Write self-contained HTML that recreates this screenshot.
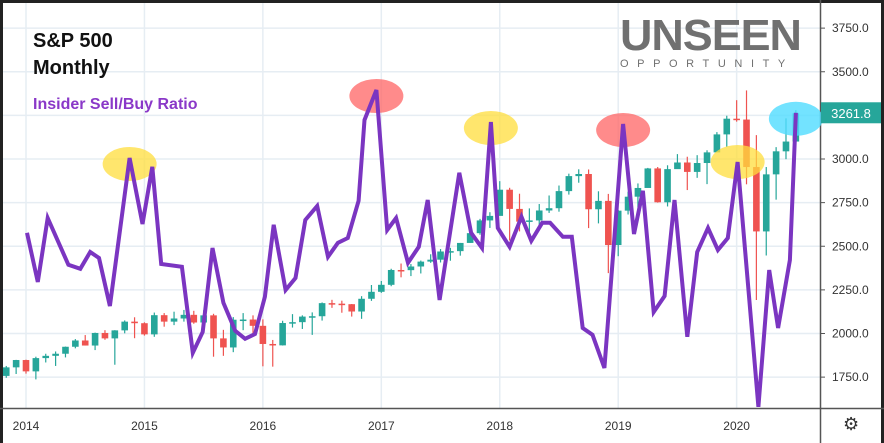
<!DOCTYPE html>
<html><head><meta charset="utf-8"><style>
body{margin:0;background:#fff;}
#wrap{position:relative;width:884px;height:443px;overflow:hidden;font-family:"Liberation Sans",sans-serif;}
</style></head><body>
<div id="wrap">
<svg id="chart" width="884" height="443"></svg>
</div>
<script>
const years=["2014","2015","2016","2017","2018","2019","2020"];
const priceTicks=[1750,2000,2250,2500,2750,3000,3250,3500,3750];
const priceTickLabels=["1750.0","2000.0","2250.0","2500.0","2750.0","3000.0","3250.0","3500.0","3750.0"];
// monthly candles Nov 2013 .. Jul 2020 (month index relative to Jan 2014)
const startMonth=-2;
const opens=[1757,1806,1848,1783,1859,1872,1884,1924,1960,1931,2003,1972,2018,2068,2059,1995,2105,2068,2086,2107,2063,2104,1972,1920,2079,2080,2044,1940,1932,2060,2065,2097,2099,2174,2171,2168,2126,2199,2239,2279,2364,2363,2384,2412,2423,2470,2472,2519,2575,2648,2674,2824,2714,2641,2648,2705,2718,2816,2902,2914,2712,2760,2507,2704,2784,2834,2946,2752,2942,2980,2926,2977,3038,3141,3231,3226,2954,2585,2912,3044,3100];
const closes=[1806,1848,1783,1859,1872,1884,1924,1960,1931,2003,1972,2018,2068,2059,1995,2105,2068,2086,2107,2063,2104,1972,1920,2079,2080,2044,1940,1932,2060,2065,2097,2099,2174,2171,2168,2126,2199,2239,2279,2364,2363,2384,2412,2423,2470,2472,2519,2575,2648,2674,2824,2714,2641,2648,2705,2718,2816,2902,2914,2712,2760,2507,2704,2784,2834,2946,2752,2942,2980,2926,2977,3038,3141,3231,3226,2954,2585,2912,3044,3100,3262];
const highs=[1814,1849,1850,1867,1884,1897,1925,1968,1991,2005,2019,2019,2075,2093,2064,2120,2117,2125,2135,2130,2133,2113,2021,2094,2117,2104,2081,1963,2073,2111,2104,2121,2178,2193,2188,2169,2214,2278,2301,2371,2401,2398,2418,2454,2484,2491,2519,2582,2657,2695,2873,2835,2801,2717,2742,2791,2848,2916,2941,2940,2815,2800,2708,2813,2860,2949,2954,2964,3028,3013,3022,3050,3154,3248,3337,3393,3137,2954,3068,3233,3280];
const lows=[1746,1768,1770,1737,1834,1814,1863,1915,1931,1905,1964,1821,2001,1973,1988,1981,2039,2048,2068,2056,2044,1867,1872,1893,2019,1993,1812,1810,1931,2034,2026,1992,2074,2147,2119,2097,2084,2187,2233,2271,2322,2329,2344,2405,2407,2417,2446,2520,2566,2605,2682,2533,2585,2553,2594,2691,2698,2796,2864,2604,2631,2346,2443,2682,2723,2848,2750,2728,2952,2822,2892,2856,3050,3070,3214,2855,2192,2447,2767,2999,3101];
// insider sell/buy ratio (month index from Jan 2014, ratio value)
const ratioMonths=[0.1,1.2,2.2,4.3,5.5,6.5,7.4,8.5,10.5,11.8,12.8,13.7,15.8,16.9,17.9,18.9,20.0,21.2,22.2,23.2,24.2,25.1,26.3,27.3,28.3,29.5,30.6,31.6,32.6,33.7,34.3,35.5,36.6,37.5,38.7,39.8,40.7,41.9,43.9,45.1,46.2,47.1,47.8,49.0,50.2,51.2,52.3,53.1,54.4,55.3,56.4,57.4,58.6,60.5,61.6,62.5,63.6,64.7,65.7,67.0,68.0,69.1,70.1,71.1,72.1,74.2,75.3,76.2,77.4,78.0];
const ratioValues=[4.38,3.15,4.75,3.58,3.48,3.9,3.75,2.55,6.25,4.6,6.03,3.6,3.53,1.38,1.9,4.0,2.63,1.93,1.73,1.85,2.78,4.58,2.95,3.25,4.7,5.05,3.78,4.13,4.25,5.18,7.2,7.95,4.45,4.75,3.63,4.03,5.2,2.7,5.88,4.38,4.0,7.15,4.5,4.03,4.78,4.18,4.63,4.63,4.28,4.28,2.0,1.83,1.0,7.1,4.35,5.43,2.4,2.8,5.2,1.78,3.9,4.5,3.95,4.25,6.15,0.03,3.45,2.0,3.7,7.38];
const highlightIdx=[8,31,41,53,64,69];
const highlightColors=["rgba(255,222,60,0.75)","rgba(255,100,100,0.75)","rgba(255,222,60,0.75)","rgba(255,100,100,0.75)","rgba(255,222,60,0.75)","rgba(80,220,255,0.8)"];

const NS="http://www.w3.org/2000/svg";
const svg=document.getElementById('chart');
const PW=820,PB=408;
function xM(m){return 26+m*9.87;}
function yP(p){return 159+(3000-p)*0.1745;}
function yR(v){return PB-v*40;}
function mk(tag,attrs,parent){const e=document.createElementNS(NS,tag);for(const k in attrs)e.setAttribute(k,attrs[k]);(parent||svg).appendChild(e);return e;}

const grid=mk('g',{});


priceTicks.forEach((p,i)=>{
  mk('line',{x1:0,x2:PW,y1:yP(p),y2:yP(p),stroke:'#e6edf3','stroke-width':1.5},grid);
  mk('line',{x1:PW,x2:PW+5,y1:yP(p),y2:yP(p),stroke:'#555','stroke-width':1},grid);
  const t=mk('text',{x:832,y:yP(p)+4,'font-size':12,fill:'#333'});
  t.textContent=priceTickLabels[i];
  
  
});
years.forEach((y,i)=>{
  const x=xM(i*12);
  mk('line',{x1:x,x2:x,y1:0,y2:PB,stroke:'#e6edf3','stroke-width':1.5},grid);
  const t=mk('text',{x:x,y:430,'font-size':12,fill:'#333','text-anchor':'middle'});
  t.textContent=y;
  
  
});
mk('rect',{x:0,y:0,width:3,height:443,fill:'#222'});
mk('rect',{x:0,y:0,width:884,height:3,fill:'#222'});
mk('rect',{x:881,y:0,width:3,height:443,fill:'#222'});
mk('line',{x1:0,x2:884,y1:PB+0.5,y2:PB+0.5,stroke:'#555','stroke-width':1.5});
mk('line',{x1:PW+0.5,x2:PW+0.5,y1:0,y2:443,stroke:'#555','stroke-width':1.5});

const cg=mk('g',{});


closes.forEach((c,i)=>{
  const o=opens[i],x=xM(startMonth+i),up=c>=o,col=up?'#26a69a':'#ef5350';
  const g=mk('g',{},cg);
  
  
  mk('line',{x1:x,x2:x,y1:yP(highs[i]),y2:yP(lows[i]),stroke:col,'stroke-width':1.2},g);
  const top=yP(Math.max(o,c)),h=Math.max(1.5,Math.abs(yP(o)-yP(c)));
  mk('rect',{x:x-3.3,y:top,width:6.6,height:h,fill:col},g);
});

highlightIdx.forEach((k,i)=>{
  const e=mk('ellipse',{cx:xM(ratioMonths[k]),cy:yR(ratioValues[k])+(i==4?0:6),rx:27,ry:17,fill:highlightColors[i]});
  
  
});

const pts=ratioMonths.map((m,i)=>xM(m).toFixed(1)+','+yR(ratioValues[i]).toFixed(1)).join(' ');
const line=mk('polyline',{points:pts,fill:'none',stroke:'#7b35c1','stroke-width':4,'stroke-linejoin':'miter'});



const lastY=yP(closes[closes.length-1]);
const pl=mk('rect',{x:821,y:lastY-11,width:60,height:21,fill:'#26a69a'});


const plt=mk('text',{x:851,y:lastY+4.5,'font-size':13,fill:'#fff','text-anchor':'middle'});
plt.textContent='3261.8';


</script>
<div style="position:absolute;left:33px;top:28px;font:bold 20px 'Liberation Sans',sans-serif;color:#111;line-height:27px;">S&amp;P 500<br>Monthly</div>
<div style="position:absolute;left:33px;top:96px;font:bold 16px 'Liberation Sans',sans-serif;color:#8a38c8;">Insider Sell/Buy Ratio</div>
<div style="position:absolute;left:620px;top:16px;width:182px;color:#707070;">
 <div style="font:bold 44px 'Liberation Sans',sans-serif;line-height:40px;letter-spacing:-1px;transform:scaleX(1.02);transform-origin:left;white-space:nowrap;">UNSEEN</div>
 <div style="font:11px 'Liberation Sans',sans-serif;letter-spacing:8.6px;line-height:14px;margin-top:1px;white-space:nowrap;">OPPORTUNITY</div>
</div>
<div style="position:absolute;left:843px;top:414px;font-size:18px;color:#333;">⚙</div>
</body></html>
